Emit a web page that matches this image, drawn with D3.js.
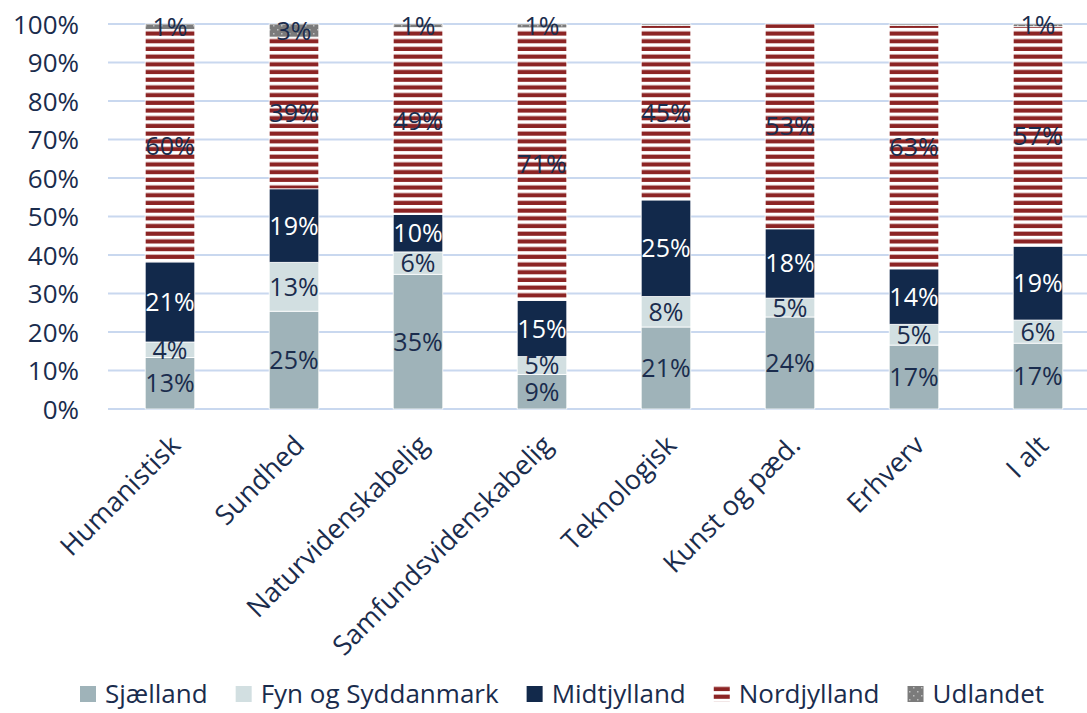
<!DOCTYPE html>
<html><head><meta charset="utf-8">
<script src="https://cdn.jsdelivr.net/npm/d3@7"></script>
<style>body{margin:0;background:#fff}svg{display:block}text{font-family:"Open Sans",Lato,sans-serif}</style>
</head><body><svg id="c" width="1087" height="713"></svg>
<script>
const categories = ["Humanistisk","Sundhed","Naturvidenskabelig","Samfundsvidenskabelig","Teknologisk","Kunst og pæd.","Erhverv","I alt"];
const seriesNames = ["Sjælland","Fyn og Syddanmark","Midtjylland","Nordjylland","Udlandet"];
const sjaelland = [13.4, 25.4, 35.0, 9.0, 21.3, 23.9, 16.6, 17.1];
const fyn       = [4.0, 12.7, 5.8, 4.6, 7.9, 4.9, 5.4, 6.0];
const midt      = [20.8, 19.1, 9.7, 14.6, 25.1, 18.0, 14.4, 19.2];
const nord      = [60.4, 39.4, 48.6, 70.8, 45.3, 53.2, 63.2, 57.0];
const udland    = [1.4, 3.4, 0.9, 1.0, 0.4, 0.0, 0.4, 0.7];
const yTicks = [0,10,20,30,40,50,60,70,80,90,100];

const svg = d3.select("#c");
const W = 1087, H = 713;
const m = {left:108, right:-13, top:24, bottom:304};
const x = d3.scaleBand().domain(categories).range([m.left, W - m.right]).paddingInner(0.6).paddingOuter(0.3);
const y = d3.scaleLinear().domain([0,100]).range([H - m.bottom, m.top]);
const textCol = "#1a2c4d";

const defs = svg.append("defs");
const ps = defs.append("pattern").attr("id","stripes").attr("patternUnits","userSpaceOnUse").attr("width",8).attr("height",7.7);
ps.append("rect").attr("width",8).attr("height",7.7).attr("fill","#fff");
ps.append("rect").attr("y",0.6).attr("width",8).attr("height",4.2).attr("fill","#8c2424");
const pd = defs.append("pattern").attr("id","dots").attr("patternUnits","userSpaceOnUse").attr("width",8).attr("height",8);
pd.append("rect").attr("width",8).attr("height",8).attr("fill","#7b7b7b");
pd.append("rect").attr("x",1).attr("y",1).attr("width",1.5).attr("height",1.5).attr("fill","#bfbfbf");
pd.append("rect").attr("x",5).attr("y",5).attr("width",1.5).attr("height",1.5).attr("fill","#bfbfbf");

const fills = ["#9fb3b9","#d2dfe1","#12294b","url(#stripes)","url(#dots)"];
const labelColors = [textCol,textCol,"#ffffff",textCol,textCol];

// gridlines
svg.append("g").selectAll("line").data(yTicks).join("line")
  .attr("x1", m.left).attr("x2", W).attr("y1", d=>y(d)).attr("y2", d=>y(d))
  .attr("stroke","#c9d8ef").attr("stroke-width",2);

// y axis labels
const yAxis = d3.axisLeft(y).tickValues(yTicks).tickFormat(d=>d+"%").tickSize(0).tickPadding(0);
const ya = svg.append("g").attr("transform",`translate(${m.left-29},0)`).call(yAxis);
ya.select(".domain").remove();
ya.selectAll("text").attr("font-size",26).attr("fill",textCol).attr("font-family","Open Sans").attr("dy","0.36em");

const rows = categories.map((c,i)=>({cat:c, v:[sjaelland[i],fyn[i],midt[i],nord[i],udland[i]]}));
const stack = d3.stack().keys([0,1,2,3,4]).value((d,k)=>d.v[k]);
const layers = stack(rows);

const g = svg.append("g");
layers.forEach((layer, k) => {
  g.append("g").selectAll("rect").data(layer).join("rect")
    .attr("x", d=>x(d.data.cat)).attr("width", x.bandwidth())
    .attr("y", d=>y(d[1])).attr("height", d=>Math.max(0, y(d[0])-y(d[1])))
    .attr("fill", fills[k]).attr("stroke","#fff").attr("stroke-width",0.8);
});
layers.forEach((layer, k) => {
  g.append("g").selectAll("text").data(layer.filter(d=>Math.round(d.data.v[k])>=1)).join("text")
    .attr("x", d=>x(d.data.cat)+x.bandwidth()/2)
    .attr("y", d=>(y(d[0])+y(d[1]))/2).attr("dy","0.36em")
    .attr("text-anchor","middle").attr("font-size",25).attr("fill",labelColors[k])
    .text(d=>Math.round(d.data.v[k])+"%");
});

// x axis labels
const xa = svg.append("g").attr("transform",`translate(0,${y(0)})`)
  .call(d3.axisBottom(x).tickSize(0).tickPadding(0));
xa.select(".domain").remove();
xa.selectAll("text").attr("font-size",27).attr("fill",textCol).attr("text-anchor","end")
  .attr("transform","translate(12,38) rotate(-45)").attr("dy",0).attr("dx",0).attr("y",0);

// legend
const leg = svg.append("g").attr("transform",`translate(0,694)`);
let lx = 80;
seriesNames.forEach((n,k)=>{
  leg.append("rect").attr("x",lx).attr("y",-8).attr("width",16).attr("height",16).attr("fill",fills[k]);
  const t = leg.append("text").attr("x",lx+25).attr("y",0).attr("dy","0.34em").attr("font-size",26).attr("fill",textCol).text(n);
  lx += 25 + t.node().getComputedTextLength() + 28;
});
</script></body></html>
